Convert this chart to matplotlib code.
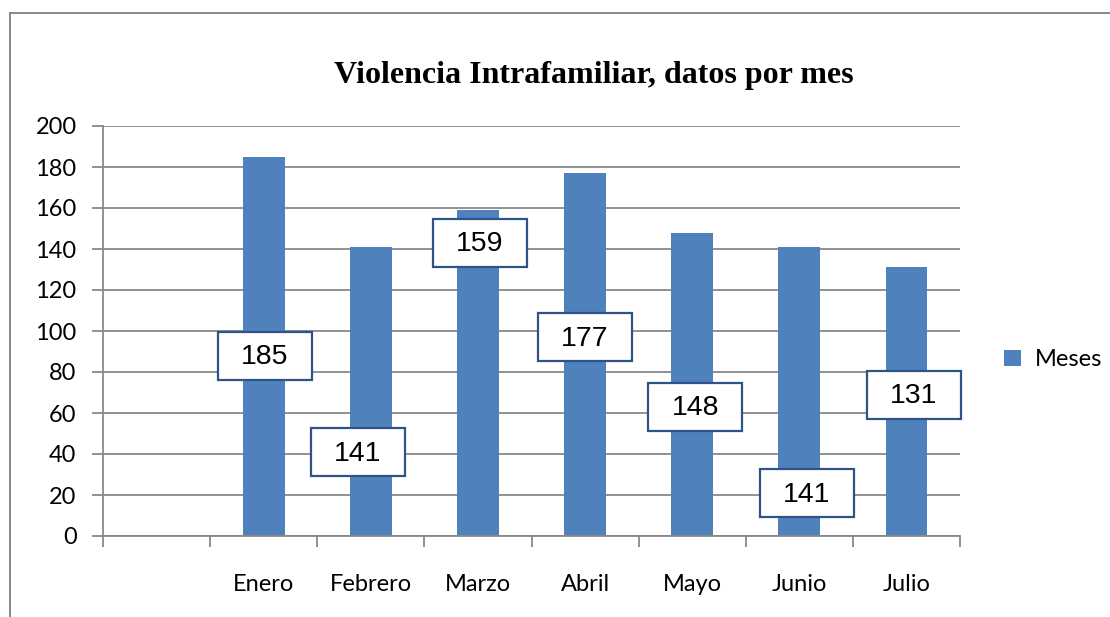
import matplotlib
matplotlib.use("Agg")
import matplotlib.pyplot as plt
from matplotlib.patches import Rectangle
from matplotlib.lines import Line2D
import numpy as np

# ---- data ----
categories = ["", "Enero", "Febrero", "Marzo", "Abril", "Mayo", "Junio", "Julio"]
values = [None, 185, 141, 159, 177, 148, 141, 131]
series_name = "Meses"
title = "Violencia Intrafamiliar, datos por mes"
y_ticks = [0, 20, 40, 60, 80, 100, 120, 140, 160, 180, 200]

# label box placement (centre, data units) - style only
label_y = [None, 88, 41, 143, 97, 63, 21, 69]
label_dx = [0, 0.01, -0.12, 0.02, 0.0, 0.03, 0.07, 0.07]

bar_color = "#4F81BD"
grid_color = "#888888"
box_edge = "#2E5487"

fig = plt.figure(figsize=(11.10, 6.17), dpi=100)
ax = fig.add_axes([103/1110, 1-536/617, (960-103)/1110, (536-126)/617])

x = np.arange(len(categories))
for i, v in enumerate(values):
    if v is None:
        continue
    ax.bar(x[i], v, width=0.39, color=bar_color, zorder=2,
           label=series_name if i == 1 else None)

ax.set_xlim(-0.5, len(categories) - 0.5)
ax.set_ylim(0, 200)
ax.set_yticks(y_ticks)
ax.yaxis.grid(True, color=grid_color, linewidth=1.3, zorder=0)
ax.set_axisbelow(True)

# x ticks at category boundaries, labels at centres
ax.set_xticks(np.arange(-0.5, len(categories), 1.0))
ax.set_xticklabels([])
ax.set_xticks(x, minor=True)
ax.set_xticklabels(categories, minor=True)
ax.tick_params(axis="x", which="major", length=8, width=1.3, color=grid_color, direction="out")
ax.tick_params(axis="x", which="minor", length=0, pad=27.5, labelsize=17)
ax.tick_params(axis="y", length=8, width=1.3, color=grid_color, direction="out", pad=11, labelsize=17)
for lab in ax.get_xticklabels(minor=True) + ax.get_yticklabels():
    lab.set_fontfamily("Lato")

for s in ["top", "right"]:
    ax.spines[s].set_visible(False)
ax.spines["left"].set_color(grid_color)
ax.spines["left"].set_linewidth(1.3)
ax.spines["bottom"].set_color(grid_color)
ax.spines["bottom"].set_linewidth(1.3)

# data label boxes
bw = 94 / ((960 - 103) / len(categories))
bh = 48 / (410 / 200)
for i, v in enumerate(values):
    if v is None:
        continue
    cx = x[i] + label_dx[i]
    cy = label_y[i]
    ax.add_patch(Rectangle((cx - bw/2, cy - bh/2), bw, bh, facecolor="white",
                           edgecolor=box_edge, linewidth=1.6, zorder=3, clip_on=False))
    ax.text(cx, cy - 0.8, str(v), ha="center", va="center", fontsize=20.5,
            family="Liberation Sans", zorder=4, color="black", clip_on=False)

# title
fig.text(594/1110, 1-75/617, title, ha="center", va="center",
         fontsize=23, fontweight="bold", family="Liberation Serif")

# legend
leg = fig.legend(loc="center left", bbox_to_anchor=(983/1110, 1-360/617), frameon=False,
                 handlelength=0.7, handleheight=0.7, handletextpad=0.6,
                 prop={"family": "Lato", "size": 17})

# outer border (top and left)
fig.add_artist(Line2D([10/1110, 10/1110], [0, 1-13/617], color=grid_color, linewidth=1.4,
                      transform=fig.transFigure))
fig.add_artist(Line2D([10/1110, 1], [1-13/617, 1-13/617], color=grid_color, linewidth=1.4,
                      transform=fig.transFigure))

fig.savefig("out.png", dpi=100, facecolor="white")
